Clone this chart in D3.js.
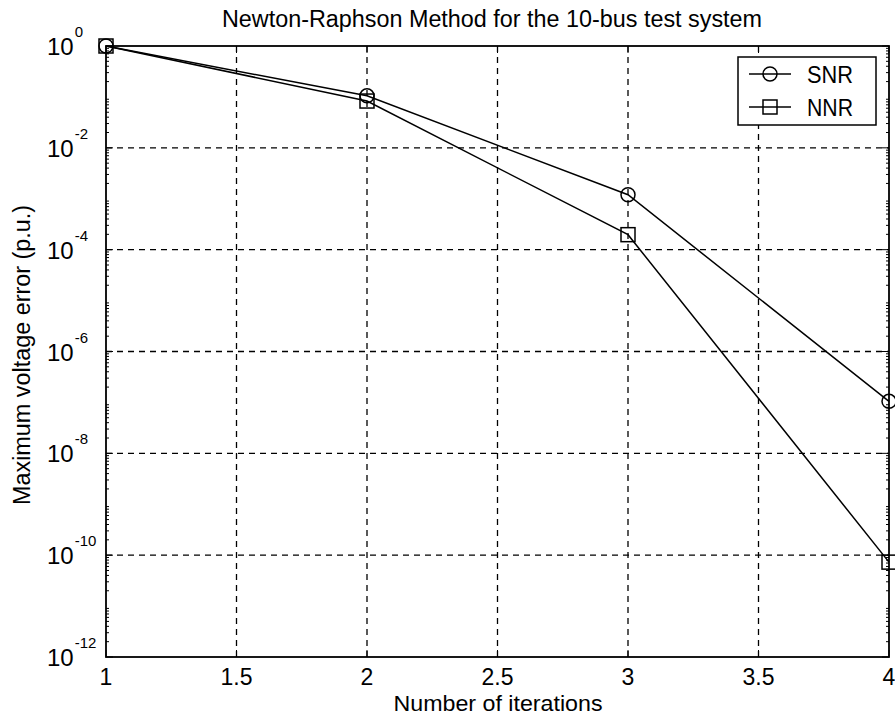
<!DOCTYPE html>
<html>
<head>
<meta charset="utf-8">
<script src="https://cdn.jsdelivr.net/npm/d3@7"></script>
<style>
  body { margin: 0; background: #fff; }
  svg { display: block; }
  text { font-family: "Liberation Sans", Arial, sans-serif; fill: #000; }
</style>
</head>
<body>
<div id="chart"></div>
<script>
// Iteration counts and maximum voltage error per iteration
const iterations = [1, 2, 3, 4];
const snrError = [1.0, 0.105, 1.2e-3, 1.05e-7];
const nnrError = [1.0, 0.083, 1.97e-4, 7.3e-11];
const xTicks = [1, 1.5, 2, 2.5, 3, 3.5, 4];
const yExponents = [0, -2, -4, -6, -8, -10, -12];

const W = 895, H = 718;
const margin = { left: 106, right: 6, top: 46, bottom: 61 };
const svg = d3.select("#chart").append("svg").attr("width", W).attr("height", H);

const x = d3.scaleLinear().domain([1, 4]).range([margin.left, W - margin.right]);
const y = d3.scaleLog().domain([1e-12, 1]).range([H - margin.bottom, margin.top]);

const x0 = x.range()[0], x1 = x.range()[1];
const y0 = y.range()[0], y1 = y.range()[1];

// Dashed grid
const grid = svg.append("g").attr("stroke", "#000").attr("stroke-width", 1.3)
  .attr("stroke-dasharray", "6,5");
grid.selectAll("line.gx").data(xTicks.slice(1, -1)).join("line")
  .attr("x1", d => x(d)).attr("x2", d => x(d)).attr("y1", y0).attr("y2", y1);
grid.selectAll("line.gy").data(yExponents.slice(1, -1)).join("line")
  .attr("y1", d => y(Math.pow(10, d))).attr("y2", d => y(Math.pow(10, d)))
  .attr("x1", x0).attr("x2", x1);

// Minor log ticks on left and right edges
const minor = [];
for (let e = -12; e < 0; e++) for (let m = 2; m <= 9; m++) minor.push(m * Math.pow(10, e));
const ticks = svg.append("g").attr("stroke", "#000").attr("stroke-width", 1);
ticks.selectAll("line.ml").data(minor).join("line")
  .attr("x1", x0).attr("x2", x0 + 3).attr("y1", d => y(d)).attr("y2", d => y(d));
ticks.selectAll("line.mr").data(minor).join("line")
  .attr("x1", x1).attr("x2", x1 - 3).attr("y1", d => y(d)).attr("y2", d => y(d));
ticks.selectAll("line.xb").data(xTicks).join("line")
  .attr("x1", d => x(d)).attr("x2", d => x(d)).attr("y1", y0).attr("y2", y0 - 7);
ticks.selectAll("line.xt").data(xTicks).join("line")
  .attr("x1", d => x(d)).attr("x2", d => x(d)).attr("y1", y1).attr("y2", y1 + 7);
ticks.selectAll("line.yl").data(yExponents).join("line")
  .attr("x1", x0).attr("x2", x0 + 7).attr("y1", d => y(Math.pow(10, d))).attr("y2", d => y(Math.pow(10, d)));
ticks.selectAll("line.yr").data(yExponents).join("line")
  .attr("x1", x1).attr("x2", x1 - 7).attr("y1", d => y(Math.pow(10, d))).attr("y2", d => y(Math.pow(10, d)));

// Frame
svg.append("rect").attr("x", x0).attr("y", y1).attr("width", x1 - x0).attr("height", y0 - y1)
  .attr("fill", "none").attr("stroke", "#000").attr("stroke-width", 1.8);

// Axis tick labels
svg.append("g").selectAll("text").data(xTicks).join("text")
  .attr("x", d => x(d)).attr("y", y0 + 28).attr("text-anchor", "middle")
  .attr("font-size", 23).text(d => d);

const yl = svg.append("g").selectAll("text").data(yExponents).join("text")
  .attr("x", 47).attr("y", d => y(Math.pow(10, d)) + 9)
  .attr("font-size", 24);
yl.append("tspan").text("10");
yl.append("tspan").attr("dx", 1).attr("dy", -18).attr("font-size", 15).text(d => d);

// Series lines and markers
const line = d3.line().x((d, i) => x(iterations[i])).y(d => y(d));
svg.append("path").datum(snrError).attr("d", line).attr("fill", "none")
  .attr("stroke", "#000").attr("stroke-width", 1.5);
svg.append("path").datum(nnrError).attr("d", line).attr("fill", "none")
  .attr("stroke", "#000").attr("stroke-width", 1.5);

svg.append("g").selectAll("circle").data(snrError).join("circle")
  .attr("cx", (d, i) => x(iterations[i])).attr("cy", d => y(d)).attr("r", 7)
  .attr("fill", "none").attr("stroke", "#000").attr("stroke-width", 1.5);
svg.append("g").selectAll("rect").data(nnrError).join("rect")
  .attr("x", (d, i) => x(iterations[i]) - 7).attr("y", d => y(d) - 7)
  .attr("width", 14).attr("height", 14)
  .attr("fill", "none").attr("stroke", "#000").attr("stroke-width", 1.5);

// Legend
const lg = svg.append("g");
lg.append("rect").attr("x", 738).attr("y", 57).attr("width", 138).attr("height", 68)
  .attr("fill", "#fff").attr("stroke", "#000").attr("stroke-width", 1.5);
const legendItems = [{ name: "SNR", shape: "circle", cy: 74 }, { name: "NNR", shape: "square", cy: 107 }];
legendItems.forEach(it => {
  lg.append("line").attr("x1", 749).attr("x2", 791).attr("y1", it.cy).attr("y2", it.cy)
    .attr("stroke", "#000").attr("stroke-width", 1.5);
  if (it.shape === "circle") {
    lg.append("circle").attr("cx", 770).attr("cy", it.cy).attr("r", 7)
      .attr("fill", "none").attr("stroke", "#000").attr("stroke-width", 1.5);
  } else {
    lg.append("rect").attr("x", 763).attr("y", it.cy - 7).attr("width", 14).attr("height", 14)
      .attr("fill", "none").attr("stroke", "#000").attr("stroke-width", 1.5);
  }
  lg.append("text").attr("x", 807).attr("y", it.cy + 9).attr("font-size", 23)
    .attr("textLength", 46).attr("lengthAdjust", "spacingAndGlyphs").text(it.name);
});

// Titles
svg.append("text").attr("x", 492).attr("y", 27).attr("text-anchor", "middle")
  .attr("font-size", 23).attr("textLength", 540).attr("lengthAdjust", "spacingAndGlyphs")
  .text("Newton-Raphson Method for the 10-bus test system");
svg.append("text").attr("x", 498).attr("y", 711).attr("text-anchor", "middle")
  .attr("font-size", 22).attr("textLength", 209).attr("lengthAdjust", "spacingAndGlyphs")
  .text("Number of iterations");
svg.append("text").attr("transform", "translate(30, 355) rotate(-90)")
  .attr("text-anchor", "middle").attr("font-size", 23)
  .attr("textLength", 300).attr("lengthAdjust", "spacingAndGlyphs")
  .text("Maximum voltage error (p.u.)");
</script>
</body>
</html>
